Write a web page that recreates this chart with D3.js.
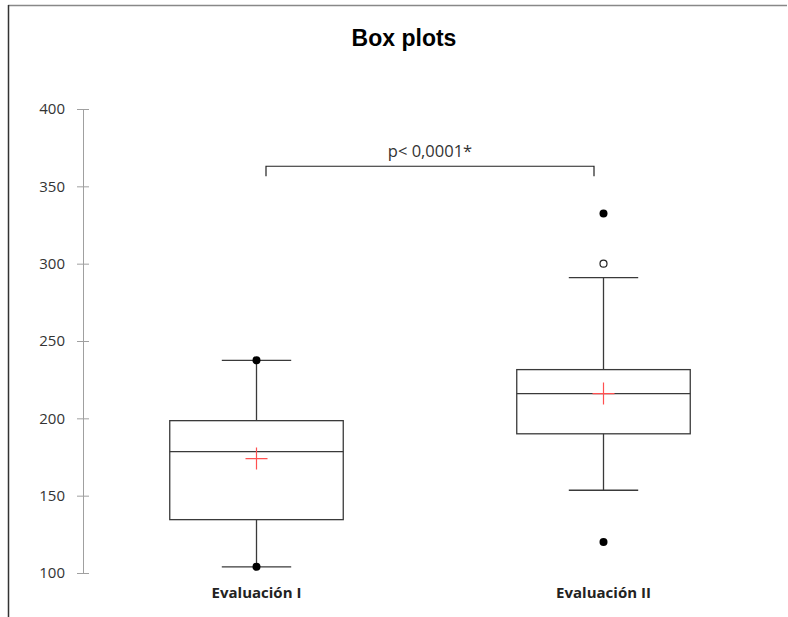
<!DOCTYPE html>
<html>
<head>
<meta charset="utf-8">
<script src="https://cdn.jsdelivr.net/npm/d3@7"></script>
<style>
  body { margin: 0; background: #fff; }
  #chart-container { width: 788px; height: 617px; }
  .tick text { font-family: "Open Sans", sans-serif; font-size: 15px; fill: #333; }
  .y.axis path, .y.axis line { stroke: #a0a0a0; }
</style>
</head>
<body>
<div id="chart-container"></div>
<script>
const categories = ['Evaluación I', 'Evaluación II']
const lowerWhisker = [104, 153.5]
const q1 = [134.5, 190]
const median = [178.5, 216]
const q3 = [198.5, 231.5]
const upperWhisker = [237.5, 291]
const means = [174, 216]
// min / max points drawn as filled dots
const extremes = [[104, 237.5], [120, 332.5]]
// other outliers drawn as open circles
const outliers = [[], [300]]
const yTicks = [100, 150, 200, 250, 300, 350, 400]
const bracketValue = 363
const bracketLabel = 'p< 0,0001*'

const width = 788
const height = 617

const svg = d3.select('#chart-container').append('svg')
  .attr('width', width)
  .attr('height', height)

// frame round the figure
svg.append('line')
  .attr('x1', 8).attr('y1', 5.5).attr('x2', 787).attr('y2', 5.5)
  .attr('stroke', '#888').attr('stroke-width', 1.5)
svg.append('line')
  .attr('x1', 8.5).attr('y1', 5).attr('x2', 8.5).attr('y2', 617)
  .attr('stroke', '#333').attr('stroke-width', 1.5)

const x = d3.scaleBand()
  .domain(categories)
  .range([83, 777])

const y = d3.scaleLinear()
  .domain([100, 400])
  .range([573, 109])

const cx = c => x(c) + x.bandwidth() / 2
const boxW = x.bandwidth() * 0.5
const capW = x.bandwidth() * 0.2

svg.append('text')
  .attr('x', 404)
  .attr('y', 46)
  .attr('text-anchor', 'middle')
  .attr('font-family', 'Liberation Sans, Arial, sans-serif')
  .attr('font-weight', 'bold')
  .attr('font-size', 23)
  .attr('fill', '#000')
  .text('Box plots')

const yAxis = d3.axisLeft(y)
  .tickValues(yTicks)
  .tickSizeInner(6)
  .tickSizeOuter(0)
  .tickPadding(12)

const gy = svg.append('g')
  .attr('class', 'y axis')
  .attr('transform', 'translate(83,0)')
  .call(yAxis)
gy.selectAll('.tick line').attr('x1', -6).attr('x2', 6)

const stroke = '#3a3a3a'

categories.forEach((c, i) => {
  const g = svg.append('g')
  const xc = cx(c)
  // whiskers
  g.append('line')
    .attr('x1', xc).attr('x2', xc)
    .attr('y1', y(q3[i])).attr('y2', y(upperWhisker[i]))
    .attr('stroke', stroke).attr('stroke-width', 1.3)
  g.append('line')
    .attr('x1', xc).attr('x2', xc)
    .attr('y1', y(q1[i])).attr('y2', y(lowerWhisker[i]))
    .attr('stroke', stroke).attr('stroke-width', 1.3)
  ;[upperWhisker[i], lowerWhisker[i]].forEach(v => {
    g.append('line')
      .attr('x1', xc - capW / 2).attr('x2', xc + capW / 2)
      .attr('y1', y(v)).attr('y2', y(v))
      .attr('stroke', stroke).attr('stroke-width', 1.3)
  })
  // box
  g.append('rect')
    .attr('x', xc - boxW / 2)
    .attr('y', y(q3[i]))
    .attr('width', boxW)
    .attr('height', y(q1[i]) - y(q3[i]))
    .attr('fill', 'none')
    .attr('stroke', stroke).attr('stroke-width', 1.3)
  g.append('line')
    .attr('x1', xc - boxW / 2).attr('x2', xc + boxW / 2)
    .attr('y1', y(median[i])).attr('y2', y(median[i]))
    .attr('stroke', stroke).attr('stroke-width', 1.3)
  // mean
  g.append('path')
    .attr('d', `M${xc - 11},${y(means[i])}H${xc + 11}M${xc},${y(means[i]) - 11}V${y(means[i]) + 11}`)
    .attr('stroke', '#ff5050').attr('stroke-width', 1.2)
  // extremes
  g.selectAll('.ext').data(extremes[i]).join('circle')
    .attr('cx', xc).attr('cy', d => y(d)).attr('r', 4)
    .attr('fill', '#000')
  g.selectAll('.out').data(outliers[i]).join('circle')
    .attr('cx', xc).attr('cy', d => y(d)).attr('r', 3.5)
    .attr('fill', '#fff').attr('stroke', '#222').attr('stroke-width', 1.2)
  // category label
  g.append('text')
    .attr('x', xc)
    .attr('y', 598)
    .attr('text-anchor', 'middle')
    .attr('font-family', 'Open Sans, sans-serif')
    .attr('font-weight', 'bold')
    .attr('font-size', 15)
    .attr('fill', '#222')
    .text(c)
})

// significance bracket
const bx1 = cx(categories[0]) + 9.5
const bx2 = cx(categories[1]) - 9.5
const by = y(bracketValue)
svg.append('path')
  .attr('d', `M${bx1},${by + 10}V${by}H${bx2}V${by + 10}`)
  .attr('fill', 'none')
  .attr('stroke', '#222').attr('stroke-width', 1.2)
svg.append('text')
  .attr('x', (bx1 + bx2) / 2)
  .attr('y', by - 9)
  .attr('text-anchor', 'middle')
  .attr('font-family', 'Open Sans, sans-serif')
  .attr('font-size', 16.5)
  .attr('fill', '#333')
  .text(bracketLabel)
</script>
</body>
</html>
